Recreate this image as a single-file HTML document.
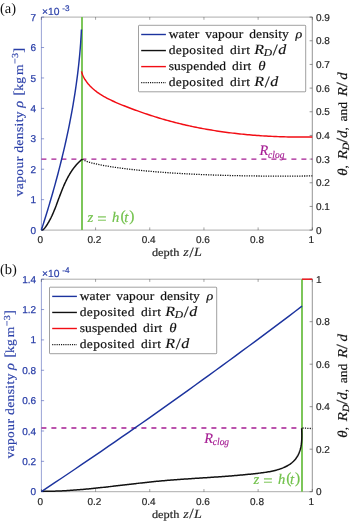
<!DOCTYPE html>
<html><head><meta charset="utf-8"><title>fig</title>
<style>html,body{margin:0;padding:0;background:#fff}body{width:350px;height:521px;overflow:hidden}svg{display:block;will-change:transform}text{text-rendering:geometricPrecision}text{font-family:"Liberation Sans",sans-serif}.s{font-family:"Liberation Serif",serif}.i{font-style:italic}</style></head><body>
<svg width="350" height="521" viewBox="0 0 350 521">
<rect width="350" height="521" fill="#fff"/>
<text class="s" x="0" y="12.9" font-size="14.5" fill="#111">(a)</text>
<g fill="none" stroke-width="0.7">
<path d="M41.4,17.1 H312.3 M41.4,230.1 H312.3" stroke="#262626" stroke-opacity="0.55"/>
<path d="M41.4,17.1 V230.1" stroke="#2a3fa8" stroke-opacity="0.5" stroke-width="0.95"/>
<path d="M312.3,17.1 V230.1" stroke="#262626" stroke-opacity="0.7"/>
<path d="M41.40,230.1 v-2.7 M41.40,17.1 v2.7 M95.58,230.1 v-2.7 M95.58,17.1 v2.7 M149.76,230.1 v-2.7 M149.76,17.1 v2.7 M203.94,230.1 v-2.7 M203.94,17.1 v2.7 M258.12,230.1 v-2.7 M258.12,17.1 v2.7 M312.30,230.1 v-2.7 M312.30,17.1 v2.7 " stroke="#262626" stroke-opacity="0.6"/>
<path d="M41.4,230.10 h2.7 M41.4,199.67 h2.7 M41.4,169.24 h2.7 M41.4,138.81 h2.7 M41.4,108.39 h2.7 M41.4,77.96 h2.7 M41.4,47.53 h2.7 M41.4,17.10 h2.7 " stroke="#2a3fa8" stroke-opacity="0.75"/>
<path d="M312.3,230.10 h-2.7 M312.3,206.43 h-2.7 M312.3,182.77 h-2.7 M312.3,159.10 h-2.7 M312.3,135.43 h-2.7 M312.3,111.77 h-2.7 M312.3,88.10 h-2.7 M312.3,64.43 h-2.7 M312.3,40.77 h-2.7 M312.3,17.10 h-2.7 " stroke="#262626" stroke-opacity="0.7"/>
</g>
<g font-size="10" fill="#2a3fa8" stroke="#2a3fa8" stroke-width="0.25" text-anchor="end">
<text x="36.1" y="233.65">0</text>
<text x="36.1" y="203.22">1</text>
<text x="36.1" y="172.79">2</text>
<text x="36.1" y="142.36">3</text>
<text x="36.1" y="111.94">4</text>
<text x="36.1" y="81.51">5</text>
<text x="36.1" y="51.08">6</text>
<text x="36.1" y="20.65">7</text>
</g>
<g font-size="10" fill="#262626" stroke="#262626" stroke-width="0.2">
<text x="316.0" y="233.65">0</text>
<text x="316.0" y="209.98">0.1</text>
<text x="316.0" y="186.32">0.2</text>
<text x="316.0" y="162.65">0.3</text>
<text x="316.0" y="138.98">0.4</text>
<text x="316.0" y="115.32">0.5</text>
<text x="316.0" y="91.65">0.6</text>
<text x="316.0" y="67.98">0.7</text>
<text x="316.0" y="44.32">0.8</text>
<text x="316.0" y="20.65">0.9</text>
</g>
<g font-size="10" fill="#262626" stroke="#262626" stroke-width="0.2" text-anchor="middle">
<text x="40.30" y="242.90">0</text>
<text x="94.48" y="242.90">0.2</text>
<text x="148.66" y="242.90">0.4</text>
<text x="202.84" y="242.90">0.6</text>
<text x="257.02" y="242.90">0.8</text>
<text x="311.20" y="242.90">1</text>
</g>
<text x="42.0" y="14.80" font-size="10.3" fill="#2a3fa8" stroke="#2a3fa8" stroke-width="0.2">×10</text>
<text x="62.3" y="11.10" font-size="8.2" fill="#2a3fa8" stroke="#2a3fa8" stroke-width="0.2">-3</text>
<text class="s" transform="translate(151.9,256.0) scale(1.1,1)" font-size="11.2" fill="#262626" stroke="#262626" stroke-width="0.18" text-anchor="start" word-spacing="2.2" textLength="24.91" lengthAdjust="spacing">depth</text>
<text class="s" transform="translate(183.3,256.00) scale(1.12,1)" font-size="12.6" fill="#262626" stroke="#262626" stroke-width="0.15"><tspan class="i">z</tspan><tspan font-size="14.2" dx="0.5" dy="0.8">/</tspan><tspan class="i" dx="0.3" dy="-0.8">L</tspan></text>
<text class="s" transform="translate(22.9,196.4) rotate(-90) scale(1.1,1)" font-size="12.3" fill="#2a3fa8" stroke="#2a3fa8" stroke-width="0.18"><tspan x="0.00" letter-spacing="0.36">vapour</tspan><tspan x="39.64" letter-spacing="0.36">density</tspan><tspan x="80.55" class="i" font-size="13.2">ρ</tspan><tspan x="91.82" font-size="13.6">[</tspan><tspan x="96.00" letter-spacing="0.2">kg</tspan><tspan x="110.36">m</tspan><tspan x="120.36" dy="-4.7" font-size="9.2" letter-spacing="0.3">−3</tspan><tspan x="130.55" dy="4.7" font-size="13.6">]</tspan></text>
<text class="s" transform="translate(346.5,124.0) rotate(-90) scale(1.1,1)" font-size="12.3" fill="#111" stroke="#111" stroke-width="0.18" text-anchor="middle" word-spacing="2.2" textLength="94.18" lengthAdjust="spacing"><tspan class="i" font-size="13.6">θ</tspan>, <tspan class="i" font-size="13.6">R</tspan><tspan class="i" font-size="9.6" dy="2">D</tspan><tspan dy="-1.2" font-size="15.5">/</tspan><tspan dy="-0.8" class="i" font-size="13.6">d</tspan>, and <tspan class="i" font-size="13.6">R</tspan><tspan font-size="15.5" dy="0.8">/</tspan><tspan dy="-0.8" font-size="1"> </tspan><tspan class="i" font-size="13.6">d</tspan></text>
<path d="M41.4,159.1 H312.3" stroke="#a51c93" stroke-width="1.45" stroke-dasharray="5 5" fill="none"/>
<path d="M82.0,17.1 V230.1" stroke="#72c24c" stroke-width="1.85" fill="none"/>
<path d="M82.40,159.29 L82.68,159.53 L83.01,159.76 L83.40,160.00 L83.83,160.23 L84.31,160.47 L84.83,160.70 L85.39,160.94 L86.00,161.17 L86.64,161.41 L87.32,161.64 L88.04,161.87 L88.79,162.11 L89.58,162.34 L90.40,162.57 L91.25,162.81 L92.14,163.04 L93.06,163.27 L94.01,163.50 L95.00,163.73 L96.01,163.96 L97.06,164.19 L98.13,164.42 L99.23,164.64 L100.37,164.87 L101.53,165.09 L102.72,165.32 L103.94,165.54 L105.18,165.76 L106.45,165.98 L107.75,166.20 L109.08,166.42 L110.43,166.64 L111.81,166.85 L113.22,167.07 L114.65,167.28 L116.10,167.49 L117.59,167.70 L119.09,167.91 L120.63,168.12 L122.18,168.32 L123.76,168.52 L125.37,168.73 L127.00,168.92 L128.65,169.12 L130.33,169.32 L132.03,169.51 L133.75,169.70 L135.50,169.89 L137.27,170.08 L139.07,170.26 L140.88,170.45 L142.72,170.63 L144.58,170.81 L146.47,170.98 L148.38,171.15 L150.30,171.33 L152.26,171.49 L154.23,171.66 L156.22,171.82 L158.24,171.98 L160.28,172.14 L162.34,172.30 L164.42,172.45 L166.52,172.60 L168.64,172.75 L170.79,172.89 L172.95,173.03 L175.14,173.17 L177.34,173.31 L179.57,173.44 L181.82,173.57 L184.08,173.70 L186.37,173.82 L188.68,173.94 L191.01,174.06 L193.36,174.18 L195.73,174.29 L198.12,174.40 L200.52,174.51 L202.95,174.61 L205.40,174.71 L207.87,174.81 L210.35,174.90 L212.86,174.99 L215.39,175.08 L217.93,175.16 L220.49,175.24 L223.08,175.32 L225.68,175.39 L228.30,175.46 L230.94,175.53 L233.60,175.59 L236.28,175.65 L238.98,175.71 L241.69,175.76 L244.42,175.81 L247.18,175.86 L249.95,175.90 L252.74,175.94 L255.54,175.98 L258.37,176.01 L261.21,176.03 L264.08,176.06 L266.96,176.08 L269.86,176.10 L272.77,176.11 L275.71,176.12 L278.66,176.12 L281.63,176.12 L284.62,176.12 L287.62,176.11 L290.65,176.10 L293.69,176.09 L296.75,176.07 L299.82,176.05 L302.92,176.02 L306.03,175.99 L309.15,175.96 L312.30,175.92" stroke="#111" stroke-width="1.3" stroke-dasharray="1.2 1.2" fill="none"/>
<path d="M41.54,230.35 L42.02,230.16 L42.47,229.94 L42.89,229.68 L43.30,229.38 L43.69,229.06 L44.06,228.72 L44.42,228.35 L44.76,227.97 L45.09,227.57 L45.41,227.15 L45.72,226.73 L46.02,226.30 L46.32,225.86 L46.61,225.42 L46.90,224.97 L47.18,224.53 L47.46,224.08 L47.74,223.63 L48.01,223.18 L48.28,222.73 L48.54,222.28 L48.80,221.83 L49.06,221.37 L49.31,220.92 L49.56,220.46 L49.81,220.00 L50.05,219.54 L50.29,219.08 L50.53,218.61 L50.77,218.15 L51.00,217.68 L51.23,217.22 L51.45,216.75 L51.68,216.28 L51.90,215.81 L52.12,215.34 L52.33,214.86 L52.55,214.39 L52.76,213.92 L52.97,213.44 L53.18,212.96 L53.38,212.49 L53.59,212.01 L53.79,211.53 L53.99,211.05 L54.19,210.57 L54.38,210.09 L54.58,209.60 L54.77,209.12 L54.97,208.64 L55.16,208.15 L55.35,207.67 L55.54,207.18 L55.73,206.69 L55.91,206.20 L56.10,205.72 L56.28,205.23 L56.47,204.74 L56.65,204.25 L56.84,203.76 L57.02,203.27 L57.20,202.78 L57.38,202.29 L57.57,201.79 L57.75,201.30 L57.93,200.81 L58.11,200.32 L58.29,199.82 L58.48,199.33 L58.66,198.84 L58.84,198.34 L59.02,197.85 L59.21,197.36 L59.39,196.86 L59.58,196.37 L59.76,195.87 L59.95,195.38 L60.13,194.89 L60.32,194.39 L60.51,193.90 L60.70,193.41 L60.89,192.91 L61.08,192.42 L61.27,191.93 L61.46,191.44 L61.66,190.95 L61.85,190.46 L62.05,189.96 L62.24,189.48 L62.44,188.99 L62.64,188.50 L62.84,188.01 L63.04,187.52 L63.25,187.04 L63.45,186.55 L63.66,186.07 L63.87,185.58 L64.08,185.10 L64.29,184.62 L64.51,184.14 L64.72,183.66 L64.94,183.18 L65.16,182.71 L65.38,182.23 L65.61,181.76 L65.83,181.28 L66.06,180.81 L66.29,180.34 L66.52,179.87 L66.76,179.40 L67.00,178.94 L67.23,178.47 L67.48,178.01 L67.72,177.55 L67.97,177.09 L68.22,176.63 L68.47,176.18 L68.73,175.73 L68.98,175.27 L69.24,174.82 L69.51,174.38 L69.77,173.93 L70.04,173.49 L70.31,173.04 L70.59,172.60 L70.87,172.17 L71.15,171.73 L71.44,171.30 L71.72,170.87 L72.01,170.44 L72.31,170.01 L72.61,169.59 L72.91,169.17 L73.22,168.75 L73.52,168.34 L73.84,167.92 L74.15,167.51 L74.47,167.10 L74.80,166.70 L75.12,166.30 L75.45,165.90 L75.79,165.50 L76.13,165.11 L76.47,164.72 L76.82,164.33 L77.17,163.94 L77.53,163.56 L77.89,163.18 L78.25,162.81 L78.62,162.44 L78.99,162.07 L79.37,161.70 L79.75,161.34 L80.14,160.98 L80.53,160.63 L80.92,160.28 L81.32,159.93 L81.73,159.58 L82.14,159.24" stroke="#111" stroke-width="1.5" fill="none"/>
<path d="M41.33,230.20 L41.98,228.17 L42.63,226.15 L43.28,224.12 L43.92,222.09 L44.55,220.06 L45.19,218.04 L45.82,216.01 L46.44,213.98 L47.06,211.95 L47.68,209.93 L48.29,207.90 L48.90,205.87 L49.50,203.85 L50.10,201.82 L50.70,199.79 L51.29,197.76 L51.88,195.74 L52.46,193.71 L53.03,191.68 L53.61,189.65 L54.18,187.63 L54.74,185.60 L55.30,183.57 L55.85,181.55 L56.40,179.52 L56.95,177.49 L57.49,175.46 L58.03,173.44 L58.56,171.41 L59.08,169.38 L59.60,167.35 L60.12,165.33 L60.63,163.30 L61.14,161.27 L61.64,159.25 L62.13,157.22 L62.62,155.19 L63.11,153.16 L63.59,151.14 L64.06,149.11 L64.53,147.08 L65.00,145.05 L65.46,143.03 L65.91,141.00 L66.36,138.97 L66.80,136.95 L67.24,134.92 L67.67,132.89 L68.10,130.86 L68.52,128.84 L68.93,126.81 L69.34,124.78 L69.74,122.75 L70.14,120.73 L70.53,118.70 L70.92,116.67 L71.30,114.65 L71.67,112.62 L72.04,110.59 L72.40,108.56 L72.76,106.54 L73.11,104.51 L73.45,102.48 L73.79,100.45 L74.12,98.43 L74.45,96.40 L74.77,94.37 L75.08,92.35 L75.38,90.32 L75.68,88.29 L75.98,86.26 L76.26,84.24 L76.55,82.21 L76.82,80.18 L77.09,78.15 L77.35,76.13 L77.60,74.10 L77.85,72.07 L78.09,70.05 L78.32,68.02 L78.55,65.99 L78.77,63.96 L78.99,61.94 L79.19,59.91 L79.39,57.88 L79.59,55.85 L79.77,53.83 L79.95,51.80 L80.12,49.77 L80.29,47.75 L80.44,45.72 L80.60,43.69 L80.74,41.66 L80.87,39.64 L81.00,37.61 L81.12,35.58 L81.24,33.55 L81.34,31.53 L81.44,29.50" stroke="#1c339e" stroke-width="1.45" fill="none"/>
<path d="M81.50,71.36 L81.79,72.50 L82.14,73.62 L82.55,74.70 L83.00,75.77 L83.49,76.80 L84.02,77.82 L84.58,78.80 L85.17,79.77 L85.79,80.71 L86.43,81.64 L87.10,82.54 L87.80,83.42 L88.51,84.27 L89.25,85.11 L90.01,85.93 L90.80,86.73 L91.60,87.52 L92.42,88.28 L93.25,89.03 L94.11,89.76 L94.99,90.48 L95.88,91.18 L96.78,91.87 L97.71,92.54 L98.65,93.19 L99.60,93.84 L100.57,94.47 L101.56,95.09 L102.56,95.70 L103.57,96.30 L104.60,96.88 L105.64,97.46 L106.70,98.03 L107.77,98.59 L108.85,99.14 L109.95,99.68 L111.06,100.21 L112.18,100.74 L113.31,101.27 L114.45,101.78 L115.61,102.30 L116.78,102.80 L117.96,103.31 L119.15,103.81 L120.35,104.31 L121.57,104.80 L122.80,105.30 L124.03,105.79 L125.28,106.28 L126.54,106.78 L127.81,107.27 L129.09,107.76 L130.37,108.25 L131.67,108.74 L132.98,109.23 L134.30,109.72 L135.63,110.21 L136.97,110.69 L138.32,111.18 L139.68,111.66 L141.05,112.14 L142.43,112.62 L143.82,113.10 L145.21,113.58 L146.62,114.05 L148.04,114.52 L149.46,114.99 L150.89,115.46 L152.33,115.92 L153.79,116.38 L155.25,116.84 L156.71,117.30 L158.19,117.75 L159.68,118.20 L161.17,118.64 L162.67,119.08 L164.18,119.52 L165.70,119.95 L167.23,120.38 L168.77,120.81 L170.31,121.23 L171.86,121.65 L173.42,122.06 L174.99,122.47 L176.57,122.87 L178.15,123.27 L179.74,123.66 L181.34,124.05 L182.95,124.43 L184.56,124.80 L186.18,125.18 L187.81,125.54 L189.45,125.90 L191.10,126.26 L192.75,126.61 L194.41,126.95 L196.07,127.29 L197.75,127.62 L199.43,127.95 L201.12,128.27 L202.81,128.59 L204.52,128.90 L206.23,129.21 L207.94,129.51 L209.67,129.80 L211.40,130.09 L213.14,130.38 L214.88,130.65 L216.63,130.93 L218.39,131.19 L220.16,131.45 L221.93,131.71 L223.71,131.96 L225.50,132.20 L227.29,132.44 L229.09,132.67 L230.89,132.90 L232.70,133.12 L234.52,133.34 L236.35,133.54 L238.18,133.75 L240.02,133.95 L241.86,134.14 L243.71,134.32 L245.57,134.50 L247.43,134.67 L249.30,134.84 L251.18,135.00 L253.06,135.16 L254.95,135.31 L256.84,135.45 L258.74,135.59 L260.65,135.72 L262.56,135.85 L264.48,135.97 L266.41,136.08 L268.34,136.19 L270.28,136.29 L272.22,136.38 L274.17,136.47 L276.12,136.55 L278.08,136.63 L280.05,136.70 L282.02,136.76 L284.00,136.82 L285.99,136.87 L287.98,136.91 L289.97,136.95 L291.97,136.98 L293.98,137.01 L295.99,137.03 L298.01,137.04 L300.04,137.04 L302.07,137.04 L304.10,137.04 L306.14,137.02 L308.19,137.00 L310.24,136.98 L312.30,136.94" stroke="#f20d14" stroke-width="1.45" fill="none"/>
<rect x="138.5" y="25.3" width="167.2" height="66.5" rx="0.8" fill="#fff" stroke="#262626" stroke-opacity="0.55" stroke-width="0.8"/>
<path d="M141.2,34.50 H165.9" stroke="#1c339e" stroke-width="1.4"/>
<path d="M141.2,50.55 H165.9" stroke="#111" stroke-width="1.4"/>
<path d="M141.2,66.60 H165.9" stroke="#f20d14" stroke-width="1.4"/>
<path d="M141.2,82.65 H165.9" stroke="#111" stroke-width="1.3" stroke-dasharray="1.1 1.1"/>
<text class="s" transform="translate(168.7,38.1) scale(1.1,1)" font-size="12.3" fill="#111" stroke="#111" stroke-width="0.18" text-anchor="start" word-spacing="2.2" textLength="109.27" lengthAdjust="spacing">water vapour density</text>
<text class="s" transform="translate(295.50,38.10) scale(1.13,1)" font-size="14.2" fill="#111" stroke="#111" stroke-width="0.15"><tspan class="i" font-size="12.4">ρ</tspan></text>
<text class="s" transform="translate(168.7,54.15) scale(1.1,1)" font-size="12.3" fill="#111" stroke="#111" stroke-width="0.18" text-anchor="start" word-spacing="2.2" textLength="73.82" lengthAdjust="spacing">deposited dirt</text>
<text class="s" transform="translate(254.30,54.15) scale(1.13,1)" font-size="14.2" fill="#111" stroke="#111" stroke-width="0.15"><tspan class="i" font-size="14.2">R</tspan><tspan class="i" font-size="10.2" dy="2" dx="-0.2">D</tspan><tspan dy="-1.0" dx="0.6" font-size="16">/</tspan><tspan dy="-1.0" dx="0.4" class="i" font-size="14.2">d</tspan></text>
<text class="s" transform="translate(168.7,70.2) scale(1.1,1)" font-size="12.3" fill="#111" stroke="#111" stroke-width="0.18" text-anchor="start" word-spacing="2.2" textLength="75.09" lengthAdjust="spacing">suspended dirt</text>
<text class="s" transform="translate(258.30,70.20) scale(1.13,1)" font-size="14.2" fill="#111" stroke="#111" stroke-width="0.15"><tspan class="i" font-size="13.2">θ</tspan></text>
<text class="s" transform="translate(168.7,86.25) scale(1.1,1)" font-size="12.3" fill="#111" stroke="#111" stroke-width="0.18" text-anchor="start" word-spacing="2.2" textLength="73.82" lengthAdjust="spacing">deposited dirt</text>
<text class="s" transform="translate(254.30,86.25) scale(1.13,1)" font-size="14.2" fill="#111" stroke="#111" stroke-width="0.15"><tspan class="i" font-size="14.2">R</tspan><tspan dy="1.0" dx="0.6" font-size="16">/</tspan><tspan dy="-1.0" dx="0.4" class="i" font-size="14.2">d</tspan></text>
<text class="s i" x="259.6" y="155.2" font-size="14.4" fill="#a51c93" stroke="#a51c93" stroke-width="0.15">R<tspan font-size="10.2" dy="2.3" dx="-0.3" textLength="16.3" lengthAdjust="spacingAndGlyphs">clog</tspan></text>
<text class="s" fill="#72c24c" stroke="#72c24c" stroke-width="0.2"><tspan class="i" x="87.60" y="222.00" font-size="14.6">z</tspan><tspan x="97.30" y="223.90" font-size="16.5">=</tspan><tspan class="i" x="112.00" y="222.00" font-size="14.6">h</tspan><tspan x="120.40" y="221.10" font-size="15.5">(</tspan><tspan class="i" x="124.20" y="222.00" font-size="14.6">t</tspan><tspan x="129.20" y="221.10" font-size="15.5">)</tspan></text>
<text class="s" x="0" y="273.9" font-size="14.5" fill="#111">(b)</text>
<g fill="none" stroke-width="0.7">
<path d="M41.4,279.2 H312.3 M41.4,491.7 H312.3" stroke="#262626" stroke-opacity="0.55"/>
<path d="M41.4,279.2 V491.7" stroke="#2a3fa8" stroke-opacity="0.5" stroke-width="0.95"/>
<path d="M312.3,279.2 V491.7" stroke="#262626" stroke-opacity="0.7"/>
<path d="M41.40,491.7 v-2.7 M41.40,279.2 v2.7 M95.58,491.7 v-2.7 M95.58,279.2 v2.7 M149.76,491.7 v-2.7 M149.76,279.2 v2.7 M203.94,491.7 v-2.7 M203.94,279.2 v2.7 M258.12,491.7 v-2.7 M258.12,279.2 v2.7 M312.30,491.7 v-2.7 M312.30,279.2 v2.7 " stroke="#262626" stroke-opacity="0.6"/>
<path d="M41.4,491.70 h2.7 M41.4,461.34 h2.7 M41.4,430.99 h2.7 M41.4,400.63 h2.7 M41.4,370.27 h2.7 M41.4,339.91 h2.7 M41.4,309.56 h2.7 M41.4,279.20 h2.7 " stroke="#2a3fa8" stroke-opacity="0.75"/>
<path d="M312.3,491.70 h-2.7 M312.3,449.20 h-2.7 M312.3,406.70 h-2.7 M312.3,364.20 h-2.7 M312.3,321.70 h-2.7 M312.3,279.20 h-2.7 " stroke="#262626" stroke-opacity="0.7"/>
</g>
<g font-size="10" fill="#2a3fa8" stroke="#2a3fa8" stroke-width="0.25" text-anchor="end">
<text x="36.1" y="495.25">0</text>
<text x="36.1" y="464.89">0.2</text>
<text x="36.1" y="434.54">0.4</text>
<text x="36.1" y="404.18">0.6</text>
<text x="36.1" y="373.82">0.8</text>
<text x="36.1" y="343.46">1</text>
<text x="36.1" y="313.11">1.2</text>
<text x="36.1" y="282.75">1.4</text>
</g>
<g font-size="10" fill="#262626" stroke="#262626" stroke-width="0.2">
<text x="316.0" y="495.25">0</text>
<text x="316.0" y="452.75">0.2</text>
<text x="316.0" y="410.25">0.4</text>
<text x="316.0" y="367.75">0.6</text>
<text x="316.0" y="325.25">0.8</text>
<text x="316.0" y="282.75">1</text>
</g>
<g font-size="10" fill="#262626" stroke="#262626" stroke-width="0.2" text-anchor="middle">
<text x="40.30" y="504.50">0</text>
<text x="94.48" y="504.50">0.2</text>
<text x="148.66" y="504.50">0.4</text>
<text x="202.84" y="504.50">0.6</text>
<text x="257.02" y="504.50">0.8</text>
<text x="311.20" y="504.50">1</text>
</g>
<text x="42.0" y="276.90" font-size="10.3" fill="#2a3fa8" stroke="#2a3fa8" stroke-width="0.2">×10</text>
<text x="62.3" y="273.20" font-size="8.2" fill="#2a3fa8" stroke="#2a3fa8" stroke-width="0.2">-4</text>
<text class="s" transform="translate(151.9,517.6) scale(1.1,1)" font-size="11.2" fill="#262626" stroke="#262626" stroke-width="0.18" text-anchor="start" word-spacing="2.2" textLength="24.91" lengthAdjust="spacing">depth</text>
<text class="s" transform="translate(183.3,517.60) scale(1.12,1)" font-size="12.6" fill="#262626" stroke="#262626" stroke-width="0.15"><tspan class="i">z</tspan><tspan font-size="14.2" dx="0.5" dy="0.8">/</tspan><tspan class="i" dx="0.3" dy="-0.8">L</tspan></text>
<text class="s" transform="translate(14.3,458.6) rotate(-90) scale(1.1,1)" font-size="12.3" fill="#2a3fa8" stroke="#2a3fa8" stroke-width="0.18"><tspan x="0.00" letter-spacing="0.36">vapour</tspan><tspan x="39.64" letter-spacing="0.36">density</tspan><tspan x="80.55" class="i" font-size="13.2">ρ</tspan><tspan x="91.82" font-size="13.6">[</tspan><tspan x="96.00" letter-spacing="0.2">kg</tspan><tspan x="110.36">m</tspan><tspan x="120.36" dy="-4.7" font-size="9.2" letter-spacing="0.3">−3</tspan><tspan x="130.55" dy="4.7" font-size="13.6">]</tspan></text>
<text class="s" transform="translate(346.5,385.85) rotate(-90) scale(1.1,1)" font-size="12.3" fill="#111" stroke="#111" stroke-width="0.18" text-anchor="middle" word-spacing="2.2" textLength="94.18" lengthAdjust="spacing"><tspan class="i" font-size="13.6">θ</tspan>, <tspan class="i" font-size="13.6">R</tspan><tspan class="i" font-size="9.6" dy="2">D</tspan><tspan dy="-1.2" font-size="15.5">/</tspan><tspan dy="-0.8" class="i" font-size="13.6">d</tspan>, and <tspan class="i" font-size="13.6">R</tspan><tspan font-size="15.5" dy="0.8">/</tspan><tspan dy="-0.8" font-size="1"> </tspan><tspan class="i" font-size="13.6">d</tspan></text>
<path d="M41.4,428.0 H302" stroke="#a51c93" stroke-width="1.45" stroke-dasharray="5 5" fill="none"/>
<path d="M302.0,279.2 V491.7" stroke="#72c24c" stroke-width="1.85" fill="none"/>
<path d="M302.5,428.0 L312.3,428.6" stroke="#111" stroke-width="1.3" stroke-dasharray="1.2 1.2" fill="none"/>
<path d="M41.35,491.36 L42.48,491.37 L43.60,491.36 L44.73,491.36 L45.85,491.35 L46.98,491.34 L48.10,491.32 L49.23,491.30 L50.35,491.28 L51.48,491.25 L52.60,491.22 L53.72,491.19 L54.85,491.15 L55.97,491.11 L57.09,491.07 L58.22,491.03 L59.34,490.98 L60.46,490.93 L61.58,490.88 L62.71,490.82 L63.83,490.76 L64.95,490.70 L66.07,490.63 L67.19,490.57 L68.31,490.50 L69.43,490.43 L70.55,490.35 L71.67,490.28 L72.79,490.20 L73.91,490.12 L75.03,490.03 L76.15,489.95 L77.27,489.86 L78.39,489.77 L79.51,489.68 L80.63,489.58 L81.75,489.49 L82.86,489.39 L83.98,489.29 L85.10,489.19 L86.22,489.09 L87.34,488.98 L88.45,488.88 L89.57,488.77 L90.69,488.66 L91.81,488.55 L92.92,488.44 L94.04,488.32 L95.16,488.21 L96.27,488.09 L97.39,487.98 L98.51,487.86 L99.62,487.74 L100.74,487.62 L101.85,487.50 L102.97,487.37 L104.09,487.25 L105.20,487.13 L106.32,487.00 L107.43,486.88 L108.55,486.75 L109.66,486.62 L110.78,486.50 L111.89,486.37 L113.01,486.24 L114.12,486.11 L115.24,485.98 L116.35,485.85 L117.47,485.72 L118.58,485.59 L119.70,485.46 L120.81,485.33 L121.93,485.20 L123.04,485.07 L124.15,484.93 L125.27,484.80 L126.38,484.67 L127.50,484.54 L128.61,484.41 L129.72,484.28 L130.84,484.15 L131.95,484.02 L133.07,483.89 L134.18,483.76 L135.29,483.64 L136.41,483.51 L137.52,483.38 L138.64,483.26 L139.75,483.13 L140.86,483.01 L141.98,482.88 L143.09,482.76 L144.20,482.64 L145.32,482.51 L146.43,482.39 L147.54,482.28 L148.66,482.16 L149.77,482.04 L150.89,481.92 L152.00,481.81 L153.11,481.70 L154.23,481.59 L155.34,481.48 L156.45,481.37 L157.57,481.26 L158.68,481.15 L159.80,481.05 L160.91,480.95 L162.02,480.85 L163.14,480.75 L164.25,480.65 L165.37,480.55 L166.48,480.46 L167.60,480.37 L168.71,480.27 L169.82,480.18 L170.94,480.09 L172.05,480.01 L173.17,479.92 L174.28,479.83 L175.40,479.75 L176.51,479.66 L177.63,479.58 L178.74,479.50 L179.86,479.42 L180.97,479.34 L182.09,479.26 L183.20,479.18 L184.32,479.10 L185.43,479.03 L186.55,478.95 L187.66,478.88 L188.78,478.80 L189.90,478.73 L191.01,478.65 L192.13,478.58 L193.25,478.50 L194.36,478.43 L195.48,478.36 L196.60,478.29 L197.71,478.21 L198.83,478.14 L199.95,478.07 L201.06,478.00 L202.18,477.92 L203.30,477.85 L204.42,477.78 L205.53,477.71 L206.65,477.63 L207.77,477.56 L208.89,477.49 L210.01,477.41 L211.13,477.34 L212.24,477.26 L213.36,477.19 L214.48,477.11 L215.60,477.04 L216.72,476.96 L217.84,476.88 L218.96,476.80 L220.08,476.72 L221.20,476.64 L222.32,476.56 L223.44,476.48 L224.56,476.40 L225.69,476.32 L226.81,476.23 L227.93,476.15 L229.05,476.06 L230.17,475.97 L231.30,475.88 L232.42,475.79 L233.54,475.70 L234.66,475.61 L235.79,475.51 L236.91,475.42 L238.03,475.32 L239.16,475.22 L240.28,475.12 L241.41,475.02 L242.53,474.91 L243.66,474.81 L244.78,474.70 L245.91,474.59 L247.03,474.48 L248.16,474.37 L249.28,474.25 L250.41,474.13 L251.54,474.02 L252.66,473.89 L253.79,473.77 L254.92,473.65 L256.05,473.52 L257.18,473.39 L258.30,473.26 L259.43,473.12 L260.56,472.98 L261.69,472.84 L262.82,472.69 L263.94,472.54 L265.06,472.38 L266.19,472.21 L267.30,472.03 L268.42,471.84 L269.53,471.64 L270.64,471.43 L271.74,471.21 L272.84,470.97 L273.93,470.72 L275.02,470.46 L276.10,470.18 L277.17,469.88 L278.24,469.56 L279.30,469.23 L280.35,468.87 L281.39,468.49 L282.43,468.10 L283.45,467.68 L284.46,467.23 L285.46,466.77 L286.45,466.27 L287.41,465.76 L288.36,465.21 L289.28,464.64 L290.18,464.03 L291.05,463.40 L291.90,462.74 L292.71,462.04 L293.49,461.32 L294.24,460.56 L294.95,459.76 L295.62,458.93 L296.26,458.07 L296.86,457.18 L297.43,456.26 L297.95,455.31 L298.44,454.34 L298.90,453.34 L299.32,452.32 L299.70,451.28 L300.05,450.21 L300.36,449.13 L300.64,448.03 L300.88,446.92 L301.09,445.79 L301.27,444.65 L301.42,443.50 L301.55,442.34 L301.65,441.18 L301.73,440.00 L301.79,438.82 L301.82,437.64 L301.84,436.46 L301.85,435.28 L301.84,434.09 L301.82,432.92 L301.78,431.74 L301.74,430.57 L301.70,429.41 L301.65,428.26" stroke="#111" stroke-width="1.5" fill="none"/>
<path d="M41.40,491.60 L48.08,487.16 L54.76,482.70 L61.45,478.23 L68.13,473.73 L74.81,469.23 L81.49,464.70 L88.17,460.16 L94.86,455.61 L101.54,451.03 L108.22,446.44 L114.90,441.84 L121.58,437.21 L128.27,432.58 L134.95,427.92 L141.63,423.25 L148.31,418.56 L154.99,413.86 L161.68,409.13 L168.36,404.40 L175.04,399.64 L181.72,394.87 L188.41,390.09 L195.09,385.28 L201.77,380.46 L208.45,375.63 L215.13,370.77 L221.82,365.91 L228.50,361.02 L235.18,356.12 L241.86,351.20 L248.54,346.27 L255.23,341.31 L261.91,336.35 L268.59,331.36 L275.27,326.36 L281.95,321.35 L288.64,316.31 L295.32,311.26 L302.00,306.20" stroke="#1c339e" stroke-width="1.45" fill="none"/>
<path d="M302,279.2 H312.3" stroke="#f20d14" stroke-width="1.4" fill="none"/>
<rect x="49.5" y="287.2" width="167.2" height="66.5" rx="0.8" fill="#fff" stroke="#262626" stroke-opacity="0.55" stroke-width="0.8"/>
<path d="M52.2,296.40 H76.9" stroke="#1c339e" stroke-width="1.4"/>
<path d="M52.2,312.45 H76.9" stroke="#111" stroke-width="1.4"/>
<path d="M52.2,328.50 H76.9" stroke="#f20d14" stroke-width="1.4"/>
<path d="M52.2,344.55 H76.9" stroke="#111" stroke-width="1.3" stroke-dasharray="1.1 1.1"/>
<text class="s" transform="translate(79.7,300.0) scale(1.1,1)" font-size="12.3" fill="#111" stroke="#111" stroke-width="0.18" text-anchor="start" word-spacing="2.2" textLength="109.27" lengthAdjust="spacing">water vapour density</text>
<text class="s" transform="translate(206.50,300.00) scale(1.13,1)" font-size="14.2" fill="#111" stroke="#111" stroke-width="0.15"><tspan class="i" font-size="12.4">ρ</tspan></text>
<text class="s" transform="translate(79.7,316.05) scale(1.1,1)" font-size="12.3" fill="#111" stroke="#111" stroke-width="0.18" text-anchor="start" word-spacing="2.2" textLength="73.82" lengthAdjust="spacing">deposited dirt</text>
<text class="s" transform="translate(165.30,316.05) scale(1.13,1)" font-size="14.2" fill="#111" stroke="#111" stroke-width="0.15"><tspan class="i" font-size="14.2">R</tspan><tspan class="i" font-size="10.2" dy="2" dx="-0.2">D</tspan><tspan dy="-1.0" dx="0.6" font-size="16">/</tspan><tspan dy="-1.0" dx="0.4" class="i" font-size="14.2">d</tspan></text>
<text class="s" transform="translate(79.7,332.1) scale(1.1,1)" font-size="12.3" fill="#111" stroke="#111" stroke-width="0.18" text-anchor="start" word-spacing="2.2" textLength="75.09" lengthAdjust="spacing">suspended dirt</text>
<text class="s" transform="translate(169.30,332.10) scale(1.13,1)" font-size="14.2" fill="#111" stroke="#111" stroke-width="0.15"><tspan class="i" font-size="13.2">θ</tspan></text>
<text class="s" transform="translate(79.7,348.15) scale(1.1,1)" font-size="12.3" fill="#111" stroke="#111" stroke-width="0.18" text-anchor="start" word-spacing="2.2" textLength="73.82" lengthAdjust="spacing">deposited dirt</text>
<text class="s" transform="translate(165.30,348.15) scale(1.13,1)" font-size="14.2" fill="#111" stroke="#111" stroke-width="0.15"><tspan class="i" font-size="14.2">R</tspan><tspan dy="1.0" dx="0.6" font-size="16">/</tspan><tspan dy="-1.0" dx="0.4" class="i" font-size="14.2">d</tspan></text>
<text class="s i" x="204.3" y="443.0" font-size="14.4" fill="#a51c93" stroke="#a51c93" stroke-width="0.15">R<tspan font-size="10.2" dy="2.3" dx="-0.3" textLength="16.3" lengthAdjust="spacingAndGlyphs">clog</tspan></text>
<text class="s" fill="#72c24c" stroke="#72c24c" stroke-width="0.2"><tspan class="i" x="253.50" y="484.20" font-size="14.6">z</tspan><tspan x="263.20" y="486.10" font-size="16.5">=</tspan><tspan class="i" x="277.90" y="484.20" font-size="14.6">h</tspan><tspan x="286.30" y="483.30" font-size="15.5">(</tspan><tspan class="i" x="290.10" y="484.20" font-size="14.6">t</tspan><tspan x="295.10" y="483.30" font-size="15.5">)</tspan></text>
</svg></body></html>
